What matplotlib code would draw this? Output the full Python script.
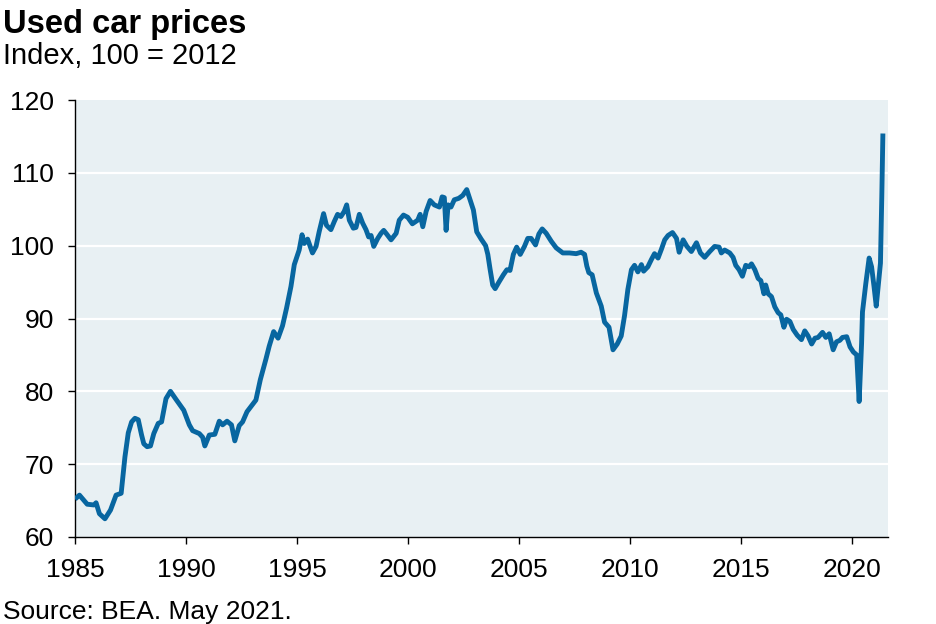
import matplotlib
matplotlib.use("Agg")
import matplotlib.pyplot as plt

plt.rcParams['font.family'] = ['Liberation Sans', 'DejaVu Sans']

years = [1985.0, 1985.2, 1985.55, 1985.85, 1985.95, 1986.1, 1986.35, 1986.6, 1986.85, 1987.08,
         1987.25, 1987.4, 1987.55, 1987.7, 1987.85, 1988.0, 1988.1, 1988.25, 1988.4, 1988.55,
         1988.75, 1988.9, 1989.1, 1989.3, 1989.55, 1989.9, 1990.15, 1990.3, 1990.6, 1990.75,
         1990.85, 1991.05, 1991.3, 1991.5, 1991.65, 1991.85, 1992.05, 1992.2, 1992.4, 1992.55,
         1992.75, 1993.05, 1993.15, 1993.35, 1993.6, 1993.75, 1993.95, 1994.15, 1994.35, 1994.53,
         1994.73, 1994.88, 1995.1, 1995.23, 1995.33, 1995.48, 1995.7, 1995.86, 1996.0, 1996.2,
         1996.33, 1996.53, 1996.68, 1996.83, 1996.98, 1997.13, 1997.24, 1997.36, 1997.54, 1997.66,
         1997.81, 1997.96, 1998.11, 1998.23, 1998.34, 1998.46, 1998.64, 1998.79, 1998.91, 1999.04,
         1999.24, 1999.47, 1999.61, 1999.8, 1999.99, 2000.2, 2000.44, 2000.55, 2000.67, 2000.82,
         2001.0, 2001.19, 2001.42, 2001.54, 2001.64, 2001.72, 2001.81, 2001.94, 2002.09, 2002.29,
         2002.47, 2002.65, 2002.8, 2002.95, 2003.1, 2003.3, 2003.5, 2003.6, 2003.7, 2003.82,
         2003.93, 2004.1, 2004.3, 2004.46, 2004.6, 2004.75, 2004.9, 2005.06, 2005.25, 2005.4,
         2005.55, 2005.75, 2005.9, 2006.05, 2006.23, 2006.46, 2006.68, 2006.98, 2007.28, 2007.58,
         2007.8, 2007.96, 2008.06, 2008.15, 2008.3, 2008.49, 2008.71, 2008.86, 2009.06, 2009.24,
         2009.43, 2009.61, 2009.76, 2009.91, 2010.07, 2010.21, 2010.36, 2010.52, 2010.62, 2010.81,
         2010.97, 2011.11, 2011.27, 2011.42, 2011.57, 2011.72, 2011.92, 2012.1, 2012.22, 2012.4,
         2012.57, 2012.77, 2013.0, 2013.18, 2013.37, 2013.6, 2013.82, 2014.02, 2014.12, 2014.27,
         2014.5, 2014.65, 2014.77, 2014.92, 2015.07, 2015.22, 2015.37, 2015.48, 2015.63, 2015.78,
         2015.9, 2016.04, 2016.12, 2016.23, 2016.38, 2016.53, 2016.68, 2016.8, 2016.94, 2017.06,
         2017.21, 2017.36, 2017.54, 2017.73, 2017.88, 2018.03, 2018.19, 2018.34, 2018.48, 2018.68,
         2018.83, 2018.98, 2019.16, 2019.31, 2019.46, 2019.58, 2019.77, 2019.92, 2020.07, 2020.22,
         2020.33, 2020.44, 2020.48, 2020.63, 2020.78, 2020.89, 2021.0, 2021.1, 2021.23, 2021.29,
         2021.35, 2021.4]

values = [65.2, 65.75, 64.5, 64.4, 64.7, 63.2, 62.5, 63.7, 65.75, 66.0,
          71.0, 74.3, 75.8, 76.3, 76.1, 74.0, 72.8, 72.4, 72.5, 74.2,
          75.6, 75.8, 79.0, 80.0, 78.9, 77.4, 75.4, 74.6, 74.2, 73.7,
          72.5, 74.0, 74.1, 75.9, 75.4, 75.9, 75.4, 73.2, 75.3, 75.8,
          77.2, 78.4, 78.8, 81.6, 84.4, 86.2, 88.2, 87.3, 89.0, 91.4,
          94.4, 97.4, 99.4, 101.5, 100.3, 100.9, 99.0, 99.9, 101.9, 104.4,
          102.8, 102.2, 103.3, 104.3, 104.0, 104.7, 105.6, 103.5, 102.4, 102.5,
          104.3, 103.1, 102.2, 101.2, 101.4, 99.9, 101.0, 101.7, 102.1, 101.6,
          100.8, 101.7, 103.5, 104.2, 103.9, 103.0, 103.5, 104.3, 102.6, 104.7,
          106.2, 105.6, 105.3, 106.7, 106.6, 102.1, 105.6, 105.3, 106.3, 106.5,
          106.9, 107.7, 106.3, 104.9, 101.9, 100.9, 100.0, 98.8, 96.8, 94.6,
          94.1, 95.0, 96.0, 96.7, 96.6, 98.8, 99.8, 98.8, 99.9, 101.0,
          101.0, 100.1, 101.6, 102.3, 101.7, 100.6, 99.7, 99.0, 99.0, 98.9,
          99.1, 98.8, 97.2, 96.3, 96.0, 93.5, 91.7, 89.5, 88.8, 85.7,
          86.5, 87.6, 90.4, 94.0, 96.7, 97.3, 96.4, 97.4, 96.5, 97.1,
          98.1, 98.9, 98.3, 99.5, 100.8, 101.4, 101.8, 101.0, 99.1, 100.8,
          99.9, 99.2, 100.4, 99.0, 98.4, 99.2, 99.9, 99.8, 99.0, 99.4,
          99.0, 98.4, 97.3, 96.7, 95.8, 97.3, 97.1, 97.5, 96.7, 95.5,
          95.2, 93.4, 94.6, 93.4, 93.0, 91.6, 90.8, 90.5, 88.8, 89.9,
          89.6, 88.5, 87.7, 87.1, 88.3, 87.6, 86.5, 87.3, 87.4, 88.1,
          87.4, 87.9, 85.7, 86.8, 87.0, 87.4, 87.5, 86.1, 85.4, 85.0,
          78.6, 86.6, 90.9, 94.8, 98.3, 97.1, 94.4, 91.7, 95.7, 97.6,
          106.7, 115.4]

x_ticks = [1985, 1990, 1995, 2000, 2005, 2010, 2015, 2020]
y_ticks = [60, 70, 80, 90, 100, 110, 120]

W, H = 936, 624
fig = plt.figure(figsize=(W / 100, H / 100), dpi=100)
ax = fig.add_axes([75 / W, 1 - 537 / H, (888 - 75) / W, (537 - 100) / H])
ax.set_facecolor('#e8f0f3')

for yv in y_ticks[1:-1]:
    ax.axhline(yv, color='white', lw=1.6, zorder=1)

ax.plot(years, values, color='#0866a0', lw=3.5, solid_joinstyle='round',
        solid_capstyle='butt', zorder=3)

ax.set_xlim(1985, 2021.63)
ax.set_ylim(60, 120)
ax.set_xticks(x_ticks)
ax.set_yticks(y_ticks)
ax.set_xticklabels([str(t) for t in x_ticks])
ax.set_yticklabels([str(t) for t in y_ticks])

for s in ['top', 'right']:
    ax.spines[s].set_visible(False)
for s in ['left', 'bottom']:
    ax.spines[s].set_color('black')
    ax.spines[s].set_linewidth(1.0)

ax.tick_params(axis='both', direction='out', length=5, width=1.0, colors='black',
               labelsize=19, labelcolor='black')
ax.tick_params(axis='x', pad=10)
ax.tick_params(axis='y', pad=10)

fig.text(3 / W, 1 - 33 / H, 'Used car prices', fontsize=23.5, fontweight='bold',
         ha='left', va='baseline')
fig.text(3 / W, 1 - 64.5 / H, 'Index, 100 = 2012', fontsize=21,
         ha='left', va='baseline')
fig.text(3 / W, 1 - 619 / H, 'Source: BEA. May 2021.', fontsize=19,
         ha='left', va='baseline')

fig.savefig('out.png', dpi=100)
